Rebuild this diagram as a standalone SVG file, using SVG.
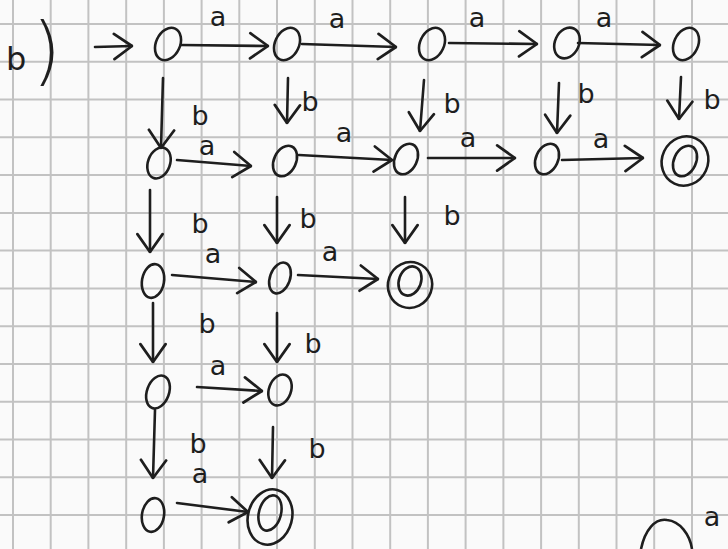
<svg xmlns="http://www.w3.org/2000/svg" width="728" height="549" viewBox="0 0 728 549">
<defs>
<marker id="chev" viewBox="0 0 20 28" markerWidth="21" markerHeight="30" refX="19" refY="14" orient="auto" markerUnits="userSpaceOnUse">
<path d="M2,2 L19,14 L2,26" fill="none" stroke="#1e1e1e" stroke-width="2.6" stroke-linecap="round" stroke-linejoin="round"/>
</marker>
</defs>
<style>
.grid{stroke:#c2c2c2;stroke-width:2;fill:none}
.st{fill:none;stroke:#1e1e1e;stroke-width:2.6}
.e{fill:none;stroke:#1e1e1e;stroke-width:2.6;stroke-linecap:round;marker-end:url(#chev)}
.lb{font-family:"DejaVu Sans",sans-serif;font-size:27px;fill:#1e1e1e;text-anchor:middle}
</style>
<rect width="728" height="549" fill="#fafafa"/>
<path class="grid" d="M13,0V549M50.7,0V549M88.4,0V549M126.2,0V549M163.9,0V549M201.6,0V549M239.3,0V549M277,0V549M314.8,0V549M352.5,0V549M390.2,0V549M427.9,0V549M465.6,0V549M503.4,0V549M541.1,0V549M578.8,0V549M616.5,0V549M654.2,0V549M692,0V549
M0,24H728M0,61.8H728M0,99.5H728M0,137.3H728M0,175.1H728M0,212.9H728M0,250.6H728M0,288.4H728M0,326.2H728M0,363.9H728M0,401.7H728M0,439.5H728M0,477.2H728M0,515H728"/>
<text x="6" y="70" font-family="DejaVu Sans,sans-serif" fill="#1e1e1e"><tspan font-size="32">b</tspan><tspan font-size="74" font-weight="200" dx="6" dy="6">)</tspan></text>
<g id="edges">
<path class="e" d="M95,47 L132,46"/>
<path class="e" d="M181,45 L268,46"/>
<path class="e" d="M302,44 L396,47"/>
<path class="e" d="M449,43 L537,44"/>
<path class="e" d="M578,43 L660,45"/>
<path class="e" d="M177,160 L251,166"/>
<path class="e" d="M299,155 L392,160"/>
<path class="e" d="M428,158 L515,158"/>
<path class="e" d="M562,160 L643,158"/>
<path class="e" d="M172,275 L256,282"/>
<path class="e" d="M298,275 L378,279"/>
<path class="e" d="M197,387 L262,391"/>
<path class="e" d="M177,503 L248,512"/>
<path class="e" d="M163,78 L161,148"/>
<path class="e" d="M288,78 L287,123"/>
<path class="e" d="M424,80 L420,131"/>
<path class="e" d="M559,83 L557,133"/>
<path class="e" d="M681,77 L679,119"/>
<path class="e" d="M150,190 L150,252"/>
<path class="e" d="M277,197 L277,243"/>
<path class="e" d="M405,197 L405,243"/>
<path class="e" d="M153,303 L153,362"/>
<path class="e" d="M277,313 L277,362"/>
<path class="e" d="M155,410 L153,478"/>
<path class="e" d="M273,427 L272,478"/>
<text class="lb" x="218" y="26">a</text>
<text class="lb" x="337" y="28">a</text>
<text class="lb" x="477" y="27">a</text>
<text class="lb" x="604" y="27">a</text>
<text class="lb" x="207" y="155">a</text>
<text class="lb" x="344" y="142">a</text>
<text class="lb" x="468" y="147">a</text>
<text class="lb" x="601" y="148">a</text>
<text class="lb" x="213" y="263">a</text>
<text class="lb" x="330" y="261">a</text>
<text class="lb" x="218" y="375">a</text>
<text class="lb" x="200" y="483">a</text>
<text class="lb" x="200" y="125">b</text>
<text class="lb" x="310" y="111">b</text>
<text class="lb" x="452" y="113">b</text>
<text class="lb" x="586" y="103">b</text>
<text class="lb" x="712" y="109">b</text>
<text class="lb" x="200" y="233">b</text>
<text class="lb" x="308" y="228">b</text>
<text class="lb" x="452" y="225">b</text>
<text class="lb" x="207" y="333">b</text>
<text class="lb" x="313" y="353">b</text>
<text class="lb" x="198" y="453">b</text>
<text class="lb" x="317" y="458">b</text>
<text class="lb" x="712" y="526">a</text>
</g>
<g id="n00"><ellipse class="st" cx="168" cy="44" rx="12" ry="17" transform="rotate(25 168 44)"/></g>
<g id="n01"><ellipse class="st" cx="287" cy="44" rx="12" ry="17" transform="rotate(25 287 44)"/></g>
<g id="n02"><ellipse class="st" cx="432" cy="44" rx="12" ry="17" transform="rotate(25 432 44)"/></g>
<g id="n03"><ellipse class="st" cx="567" cy="43" rx="12" ry="16" transform="rotate(25 567 43)"/></g>
<g id="n04"><ellipse class="st" cx="686" cy="44" rx="12" ry="17" transform="rotate(25 686 44)"/></g>
<g id="n10"><ellipse class="st" cx="159" cy="163" rx="11" ry="16" transform="rotate(20 159 163)"/></g>
<g id="n11"><ellipse class="st" cx="285" cy="161" rx="11" ry="16" transform="rotate(25 285 161)"/></g>
<g id="n12"><ellipse class="st" cx="406" cy="159" rx="11" ry="16" transform="rotate(25 406 159)"/></g>
<g id="n13"><ellipse class="st" cx="547" cy="159" rx="11" ry="16" transform="rotate(25 547 159)"/></g>
<g id="n14"><ellipse class="st" cx="685" cy="161" rx="23" ry="25" transform="rotate(25 685 161)"/><ellipse class="st" cx="685" cy="161" rx="11" ry="16" transform="rotate(25 685 161)"/></g>
<g id="n20"><ellipse class="st" cx="153" cy="281" rx="11" ry="17" transform="rotate(10 153 281)"/></g>
<g id="n21"><ellipse class="st" cx="280" cy="278" rx="10" ry="16" transform="rotate(20 280 278)"/></g>
<g id="n22"><ellipse class="st" cx="410" cy="285" rx="22" ry="23" transform="rotate(20 410 285)"/><ellipse class="st" cx="410" cy="281" rx="11" ry="15" transform="rotate(20 410 281)"/></g>
<g id="n30"><ellipse class="st" cx="158" cy="392" rx="11" ry="17" transform="rotate(20 158 392)"/></g>
<g id="n31"><ellipse class="st" cx="280" cy="390" rx="11" ry="16" transform="rotate(20 280 390)"/></g>
<g id="n40"><ellipse class="st" cx="153" cy="515" rx="11" ry="17" transform="rotate(10 153 515)"/></g>
<g id="n41"><ellipse class="st" cx="270" cy="517" rx="22" ry="28" transform="rotate(15 270 517)"/><ellipse class="st" cx="270" cy="513" rx="11" ry="18" transform="rotate(15 270 513)"/></g>
<g id="npartial"><path class="st" d="M641,549 C645,530 655,518 667,520 C680,521 690,535 692,549"/></g>
</svg>
